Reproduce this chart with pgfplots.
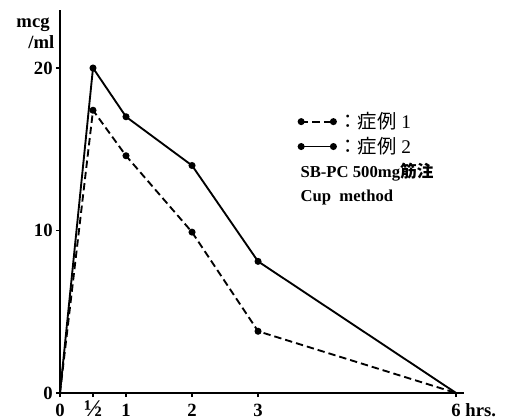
\documentclass[border=0pt]{standalone}
\usepackage{fontspec}
\setmainfont{Liberation Serif}
\newfontfamily\cjk{Noto Sans CJK JP}
\usepackage{pgfplots}
\pgfplotsset{compat=1.18}

\begin{document}
\begin{tikzpicture}
  % fix the page to the reference's 509x420 px (1px = 0.75pt)
  \useasboundingbox (-45pt,-20.25pt) rectangle (336.75pt,294.75pt);
  \begin{axis}[
    at={(0,0)}, anchor=origin,
    scale only axis, width=303pt, height=287.25pt,
    xmin=0, xmax=6.12, ymin=0, ymax=23.57,
    axis lines=left, axis line style={-, line width=1.4pt},
    clip=false,
    xtick={0,0.5,1,2,3,6},
    xticklabels={0,{\fontsize{18}{14}\selectfont ½},1,2,3,6\rlap{ hrs.}},
    ytick={0,10,20},
    tick align=outside, major tick length=3pt,
    tick style={line width=1pt, black},
    ticklabel style={font=\fontsize{14}{14}\selectfont\bfseries},
    xticklabel style={yshift=-1pt, text height=10pt},
    yticklabel style={xshift=1pt},
    /pgf/number format/assume math mode=true,
    legend style={at={(rel axis cs:0.59,0.74)}, anchor=north west,
      draw=none, fill=none, font=\fontsize{14.5}{17}\selectfont,
      row sep=1pt, inner sep=0pt},
    legend cell align=left,
    legend image code/.code={%
      \draw[#1, mark indices={1,2}] plot coordinates {(0cm,0cm) (0.85cm,0cm)};},
  ]
    % case 1
    \addplot[black, line width=1.4pt, dash pattern=on 5.5pt off 3pt,
      mark=*, mark size=1.9pt, mark options={solid}, mark indices={2,3,4,5}]
      coordinates {(0,0) (0.5,17.4) (1,14.6) (2,9.9) (3,3.8) (6,0)};
    \addlegendentry{{\cjk ：症例}\ 1}
    % case 2
    \addplot[black, line width=1.4pt,
      mark=*, mark size=1.9pt, mark indices={2,3,4,5}]
      coordinates {(0,0) (0.5,20) (1,17) (2,14) (3,8.1) (6,0)};
    \addlegendentry{{\cjk ：症例}\ 2}

    \node[anchor=north west, align=left, inner sep=0pt,
      font=\fontsize{12.5}{18}\selectfont\bfseries]
      at (axis cs:3.64,14.15) {SB-PC 500mg{\cjk 筋注}\\Cup\ \ method};
    \node[anchor=east, align=left, inner sep=0pt,
      font=\fontsize{14}{16}\selectfont\bfseries]
      at (rel axis cs:0,0.94) [xshift=-4pt] {mcg\\\hspace{9pt}/ml};
  \end{axis}
\end{tikzpicture}
\end{document}
